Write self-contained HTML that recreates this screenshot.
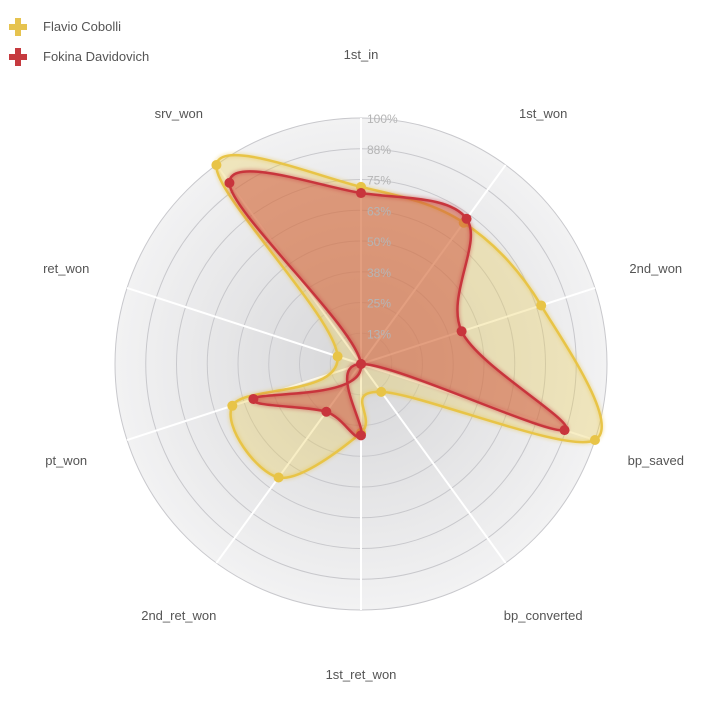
<!DOCTYPE html>
<html><head><meta charset="utf-8">
<style>
body{margin:0;background:#fff;font-family:"Liberation Sans",sans-serif;}
svg text{font-family:"Liberation Sans",sans-serif;}
</style></head>
<body>
<svg id="chart" width="720" height="701" viewBox="0 0 720 701">
<defs>
<radialGradient id="bg" cx="50%" cy="50%" r="50%">
<stop offset="0%" stop-color="#d6d6d8"/>
<stop offset="100%" stop-color="#f2f2f3"/>
</radialGradient>
<filter id="glow" x="-20%" y="-20%" width="140%" height="140%"><feGaussianBlur stdDeviation="1.5"/></filter>
</defs>
<g id="grid"></g>
<g id="series"></g>
<g id="ticks"></g>
<g id="labels"></g>
<g>
<g>
<path d="M15 18h6v6h6v6h-6v6h-6v-6h-6v-6h6z" fill="#e6c34f"/>
<text x="43" y="31" font-size="13" fill="#555">Flavio Cobolli</text>
</g>
<g>
<path d="M15 48h6v6h6v6h-6v6h-6v-6h-6v-6h6z" fill="#c63a3f"/>
<text x="43" y="61" font-size="13" fill="#555">Fokina Davidovich</text>
</g>
</g>
</svg>
<script>
const categories=["1st_in","1st_won","2nd_won","bp_saved","bp_converted","1st_ret_won","2nd_ret_won","pt_won","ret_won","srv_won"];
const cobolli=[0.72,0.71,0.77,1.0,0.14,0.28,0.57,0.55,0.10,1.0];
const fokina=[0.695,0.73,0.43,0.87,0.0,0.29,0.24,0.46,0.0,0.91];
const tickLabels=["13%","25%","38%","50%","63%","75%","88%","100%"];
const tickValues=[0.125,0.25,0.375,0.5,0.625,0.75,0.875,1.0];
const NS="http://www.w3.org/2000/svg";
const cx=361,cy=364,R=246;
function ang(i){return i*2*Math.PI/categories.length;}
function pt(i,v){const a=ang(i);return [cx+R*v*Math.sin(a),cy-R*v*Math.cos(a)];}
function mk(tag,attrs,parent){const e=document.createElementNS(NS,tag);for(const k in attrs)e.setAttribute(k,attrs[k]);parent.appendChild(e);return e;}
const grid=document.getElementById('grid');
const bgc=mk('circle',{cx:cx,cy:cy,r:R,fill:'url(#bg)'},grid);


tickValues.forEach(v=>{
 const c=mk('circle',{cx:cx,cy:cy,r:R*v,fill:'none',stroke:'#c8c8cc','stroke-width':1},grid);
 
 
});
categories.forEach((c,i)=>{
 const [x,y]=pt(i,1);
 const l=mk('line',{x1:cx,y1:cy,x2:x,y2:y,stroke:'#fff','stroke-width':2},grid);
 
 
 const [lx,ly]=pt(i,1.26);
 const t=mk('text',{x:lx,y:ly+5,'text-anchor':'middle','font-size':13,fill:'#555'},document.getElementById('labels'));
 t.textContent=c;
 
 
});
function smoothPath(vals){
 const n=vals.length;const P=vals.map((v,i)=>pt(i,v));
 let d=`M${P[0][0]},${P[0][1]}`;
 const t=0.5;
 for(let i=0;i<n;i++){
  const p0=P[(i-1+n)%n],p1=P[i],p2=P[(i+1)%n],p3=P[(i+2)%n];
  const c1=[p1[0]+(p2[0]-p0[0])*t/3*1.0,p1[1]+(p2[1]-p0[1])*t/3];
  const c2=[p2[0]-(p3[0]-p1[0])*t/3,p2[1]-(p3[1]-p1[1])*t/3];
  d+=` C${c1[0]},${c1[1]} ${c2[0]},${c2[1]} ${p2[0]},${p2[1]}`;
 }
 return d+'Z';
}
const sg=document.getElementById('series');
function drawSeries(vals,line,fill,name){
 const g=mk('g',{},sg);
 
 
 const d=smoothPath(vals);
 mk('path',{d:d,fill:fill,stroke:'none'},g);
 mk('path',{d:d,fill:'none',stroke:line,'stroke-width':5,opacity:0.35,filter:'url(#glow)'},g);
 mk('path',{d:d,fill:'none',stroke:line,'stroke-width':2.5},g);
 vals.forEach((v,i)=>{const [x,y]=pt(i,v);
  const c=mk('circle',{cx:x,cy:y,r:5,fill:line},g);
  
  
 });
}
drawSeries(cobolli,'#e8c447','rgba(236,205,90,0.35)','series-cobolli');
drawSeries(fokina,'#c8353c','rgba(205,80,60,0.5)','series-fokina');
const tg=document.getElementById('ticks');
tickValues.forEach((v,i)=>{
 const t=mk('text',{x:cx+6,y:cy-R*v+5,'font-size':12,fill:'#b5b5b5'},tg);
 t.textContent=tickLabels[i];
 
 
});
</script>
</body></html>
